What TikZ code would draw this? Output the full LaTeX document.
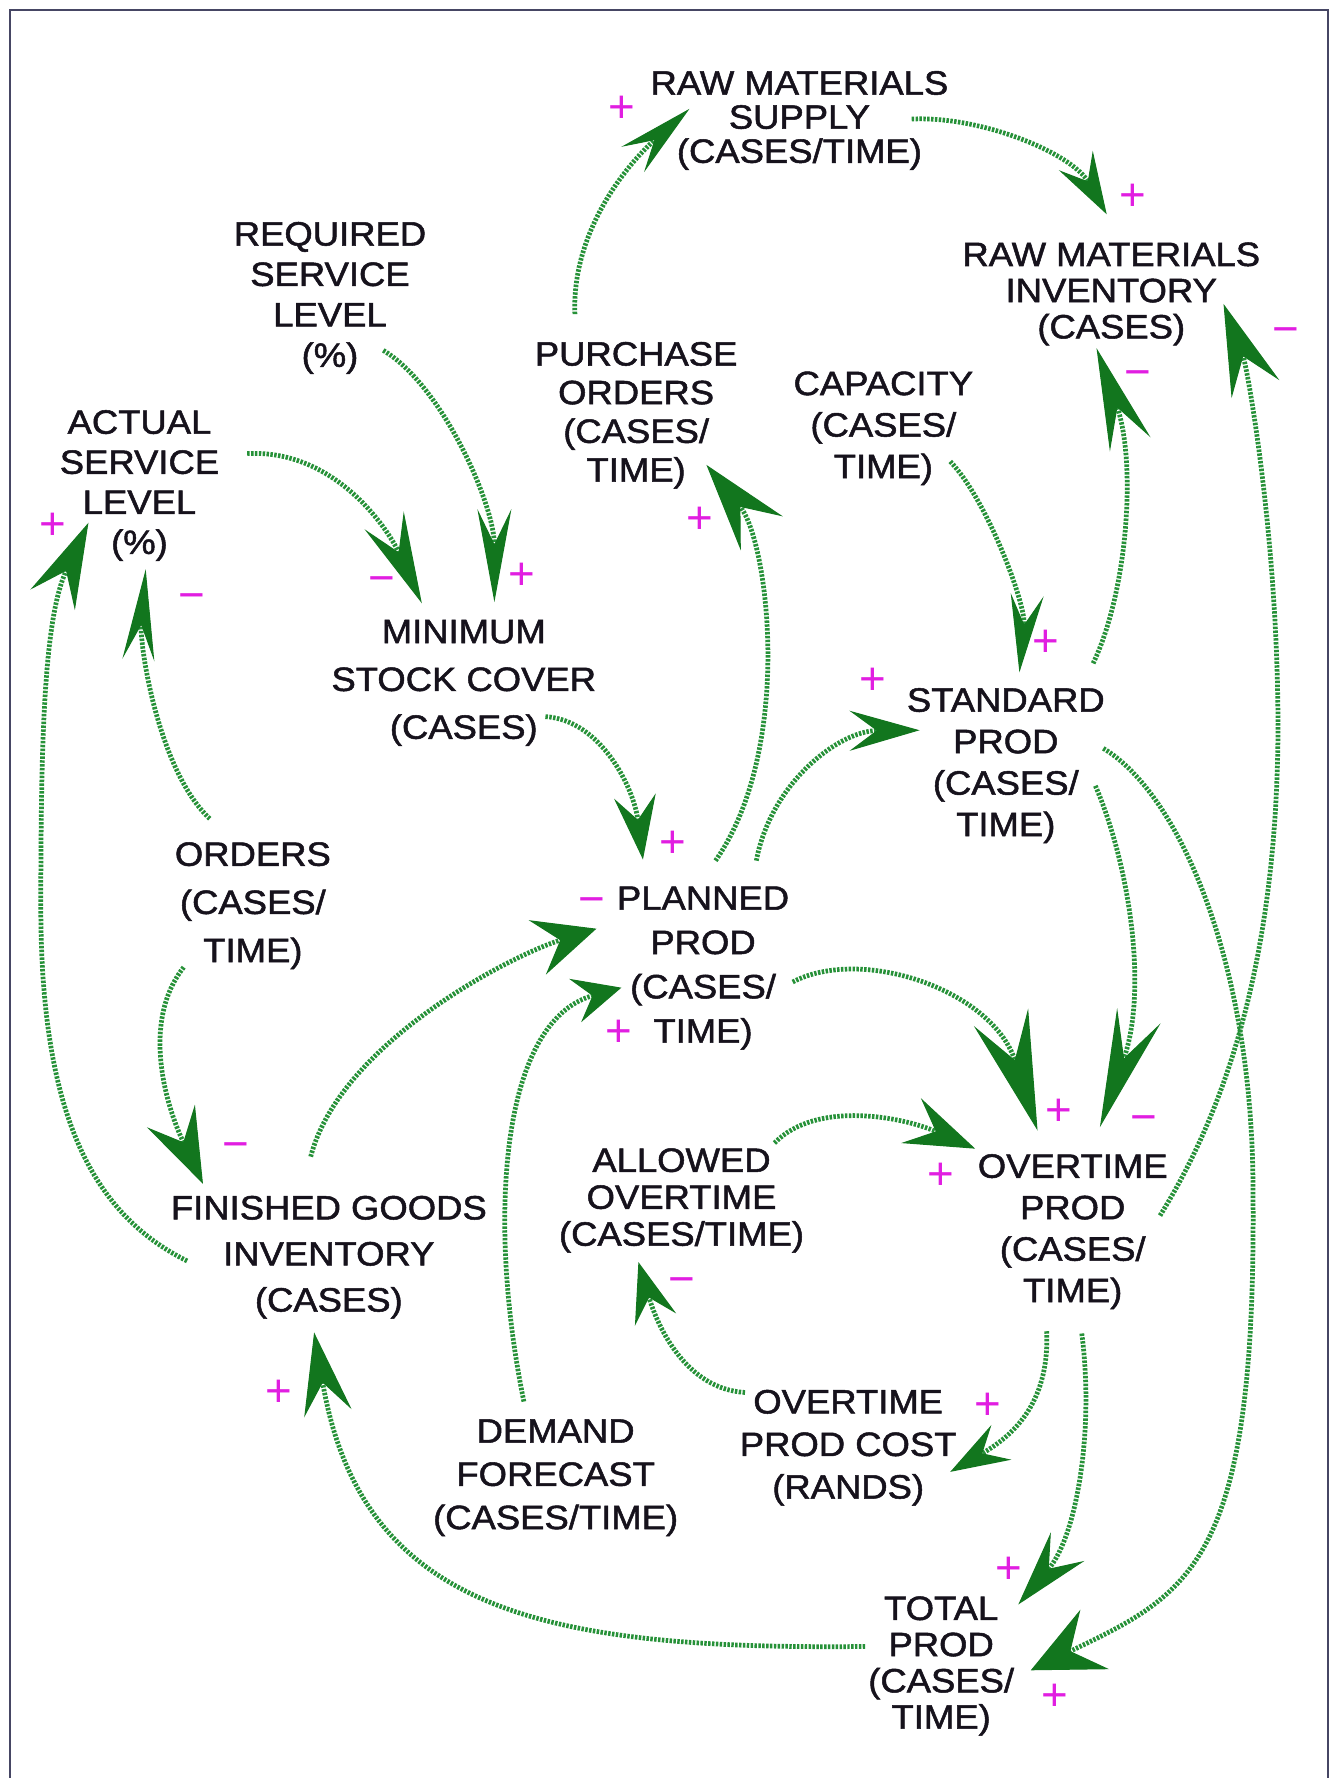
\documentclass[tikz,border=0pt]{standalone}
\usepackage{fontspec}
\setmainfont{Liberation Sans}
\newfontfamily\lblfont{Liberation Sans}[FakeBold=1.5, FakeStretch=1.08]
\usetikzlibrary{arrows.meta,calc}
\definecolor{lnk}{RGB}{38,145,56}
\definecolor{hdc}{RGB}{18,118,30}
\definecolor{sgn}{RGB}{225,30,225}
\definecolor{txt}{RGB}{22,18,28}
\definecolor{frm}{RGB}{70,70,100}
\tikzset{
  lbl/.style={font=\lblfont\fontsize{9.6}{#1}\selectfont, align=center, inner sep=0pt, text=txt},
  sg/.style={font=\fontsize{13}{13}\selectfont, inner sep=0pt, text=sgn},
  link/.style={draw=lnk, line width=1.35pt, dash pattern=on 0.7pt off 0.4pt},
  ahead/.style n args={3}{-{Stealth[length=#1mm, width=#2mm, inset=#3mm, color=hdc, line width=0.3pt]}},
}
\begin{document}
\begin{tikzpicture}[x=0.011341cm, y=-0.011341cm]
\useasboundingbox (0,0) rectangle (1178,1568);
\fill[white] (0,0) rectangle (1178,1568);
% open frame: left, top and right sides
\draw[frm, line width=0.6pt] (9,1568) -- (9,9) -- (1171,9) -- (1171,1568);

% variables
\node[lbl=9.7pt]  (rms)  at (705,106.2)  {RAW MATERIALS\\SUPPLY\\(CASES/TIME)};
\node[lbl=10.3pt] (rmi)  at (980,259.2)  {RAW MATERIALS\\INVENTORY\\(CASES)};
\node[lbl=11.5pt] (rsl)  at (291,262.7)  {REQUIRED\\SERVICE\\LEVEL\\(\%)};
\node[lbl=11pt]   (po)   at (561,366.2)  {PURCHASE\\ORDERS\\(CASES/\\TIME)};
\node[lbl=11.8pt] (cap)  at (779,377.7)  {CAPACITY\\(CASES/\\TIME)};
\node[lbl=11.4pt] (asl)  at (123,428.2)  {ACTUAL\\SERVICE\\LEVEL\\(\%)};
\node[lbl=13.6pt] (msc)  at (409,602.2)  {MINIMUM\\STOCK COVER\\(CASES)};
\node[lbl=11.8pt] (sp)   at (887,675.2)  {STANDARD\\PROD\\(CASES/\\TIME)};
\node[lbl=13.7pt] (ord)  at (223,798.7)  {ORDERS\\(CASES/\\TIME)};
\node[lbl=12.6pt] (pp)   at (620,853.7)  {PLANNED\\PROD\\(CASES/\\TIME)};
\node[lbl=10.5pt] (ao)   at (601,1058.7) {ALLOWED\\OVERTIME\\(CASES/TIME)};
\node[lbl=11.8pt] (otp)  at (946,1086.2) {OVERTIME\\PROD\\(CASES/\\TIME)};
\node[lbl=13.1pt] (fgi)  at (290,1108.7) {FINISHED GOODS\\INVENTORY\\(CASES)};
\node[lbl=12.1pt] (otpc) at (748,1276.7) {OVERTIME\\PROD COST\\(RANDS)};
\node[lbl=12.3pt] (df)   at (490,1303.2) {DEMAND\\FORECAST\\(CASES/TIME)};
\node[lbl=10.3pt] (tp)   at (830,1469.2) {TOTAL\\PROD\\(CASES/\\TIME)};

% polarity signs
\node[sg] (s1)  at (548.5,96)  {+};
\node[sg] (s2)  at (999,174)   {+};
\node[sg] (s3)  at (1134,296)  {−};
\node[sg] (s4)  at (1003,334)  {−};
\node[sg] (s5)  at (46.5,464)  {+};
\node[sg] (s6)  at (337,516)   {−};
\node[sg] (s7)  at (460,508)   {+};
\node[sg] (s8)  at (617.5,459) {+};
\node[sg] (s9)  at (169,531)   {−};
\node[sg] (s10) at (922,567)   {+};
\node[sg] (s11) at (770,600.6) {+};
\node[sg] (s12) at (593.5,745) {+};
\node[sg] (s13) at (522,799.5) {−};
\node[sg] (s14) at (546,911)   {+};
\node[sg] (s15) at (208,1015)  {−};
\node[sg] (s16) at (934,981)   {+};
\node[sg] (s17) at (1009,991)  {−};
\node[sg] (s18) at (830,1037)  {+};
\node[sg] (s19) at (601,1134)  {−};
\node[sg] (s20) at (246,1229)  {+};
\node[sg] (s21) at (871,1240)  {+};
\node[sg] (s22) at (890,1385)  {+};
\node[sg] (s23) at (930,1497)  {+};

% causal links
\draw[link, ahead={7.6}{3.4}{2.9}] ($(po)+(-54,-89.2)$) .. controls (504,205) and (552,146) .. ($(rms)+(-97,-10.2)$);
\draw[link, ahead={6.2}{3.9}{2.4}] ($(rms)+(99,-1.2)$) .. controls (865,102) and (945,135) .. ($(rmi)+(-4,-70.2)$);
\draw[link, ahead={10.2}{4.3}{3.9}] ($(sp)+(77,-90.2)$) .. controls (995,520) and (1002,407) .. ($(rmi)+(-13,47.8)$);
\draw[link, ahead={9.1}{5.1}{3.5}] ($(otp)+(77,-14.2)$) .. controls (1080,980) and (1125,850) .. (1127,650)
   .. controls (1128,480) and (1100,324) .. ($(rmi)+(99,8.8)$);
\draw[link, ahead={7.8}{3.3}{3.0}] ($(cap)+(59,29.3)$) .. controls (870,440) and (905,533) .. ($(sp)+(12,-82.2)$);
\draw[link, ahead={8.8}{5.4}{3.4}] ($(pp)+(11,-94.7)$) .. controls (700,660) and (678,478) .. ($(po)+(62,43.8)$);
\draw[link, ahead={7.0}{4.0}{2.7}] ($(pp)+(47,-94.7)$) .. controls (680,690) and (740,644.5) .. ($(sp)+(-76,-31.2)$);
\draw[link, ahead={9.3}{3.4}{3.5}] ($(rsl)+(47,46.3)$) .. controls (390,340) and (436,445) .. ($(msc)+(27,-71.2)$);
\draw[link, ahead={9.1}{4.3}{3.5}] ($(asl)+(95,-28.2)$) .. controls (295,396) and (342,466) .. ($(msc)+(-37,-70.2)$);
\draw[link, ahead={9.1}{3.2}{3.5}] ($(ord)+(-38,-76.7)$) .. controls (140,680) and (123,570) .. ($(asl)+(5.5,73.8)$);
\draw[link, ahead={8.5}{4.9}{3.2}] ($(fgi)+(-125,3.3)$) .. controls (80,1070) and (36,980) .. (36,800)
   .. controls (36,650) and (39,545) .. ($(asl)+(-45,32.8)$);
\draw[link, ahead={6.4}{4.2}{2.4}] ($(msc)+(72,29.8)$) .. controls (530,635) and (559,695) .. ($(pp)+(-53,-95.7)$);
\draw[link, ahead={7.5}{5.3}{2.9}] ($(ord)+(-61,54.3)$) .. controls (125,900) and (145,972) .. ($(fgi)+(-111,-64.7)$);
\draw[link, ahead={6.2}{5.7}{2.4}] ($(fgi)+(-16,-88.7)$) .. controls (300,920) and (450,843) .. ($(pp)+(-94,-34.7)$);
\draw[link, ahead={4.8}{4.5}{1.8}] ($(df)+(-28,-67.2)$) .. controls (430,1080) and (440,901) .. ($(pp)+(-72,17.3)$);
\draw[link, ahead={11.9}{5.7}{4.5}] ($(pp)+(79,12.3)$) .. controls (760,834) and (875,873) .. ($(otp)+(-31,-89.2)$);
\draw[link, ahead={11.8}{4.6}{4.5}] ($(sp)+(79,17.8)$) .. controls (995,760) and (1013,871) .. ($(otp)+(24,-92.2)$);
\draw[link, ahead={7.0}{4.9}{2.7}] ($(ao)+(82,-50.7)$) .. controls (720,970) and (796,985) .. ($(otp)+(-86,-73.2)$);
\draw[link, ahead={6.0}{4.3}{2.3}] ($(otpc)+(-91,-48.7)$) .. controls (605,1225) and (580,1170) .. ($(ao)+(-38,54.3)$);
\draw[link, ahead={5.9}{4.0}{2.2}] ($(otp)+(-23,87.8)$) .. controls (926,1240) and (890,1268) .. ($(otpc)+(90,21.3)$);
\draw[link, ahead={7.6}{4.4}{2.9}] ($(otp)+(8,89.8)$) .. controls (965,1260) and (950,1354) .. ($(tp)+(68,-54.2)$);
\draw[link, ahead={8.2}{4.8}{3.1}] ($(tp)+(-67,-17.2)$) .. controls (480,1455) and (319,1421) .. ($(fgi)+(-13,66.3)$);
\draw[link, ahead={7.1}{6.6}{2.7}] ($(sp)+(86,-15.2)$) .. controls (1040,700) and (1105,850) .. (1105,1050)
   .. controls (1108,1380) and (1050,1405) .. ($(tp)+(79,3.8)$);
\end{tikzpicture}
\end{document}
